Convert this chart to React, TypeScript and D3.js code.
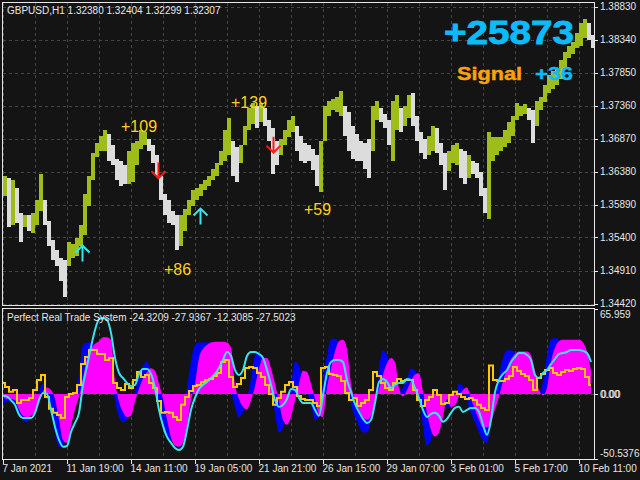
import * as d3 from 'd3'

// GBPUSD H1, aggregated 4 bars per group
const BARS_PER_GROUP = 4
const priceHigh = [
  1.3632, 1.3628, 1.3625, 1.3613, 1.3576, 1.3573, 1.3573, 1.3577, 1.3595, 1.3635,
  1.3595, 1.3565, 1.3536, 1.3521, 1.3509, 1.3506, 1.3533, 1.3531, 1.3539, 1.3558,
  1.3605, 1.3632, 1.3666, 1.3681, 1.3691, 1.3699, 1.3694, 1.3677, 1.3657, 1.3654,
  1.3647, 1.3669, 1.368, 1.3684, 1.3699, 1.3696, 1.3687, 1.3677, 1.3662, 1.3632,
  1.3605, 1.3595, 1.358, 1.3573, 1.3573, 1.3583, 1.3595, 1.361, 1.3614, 1.3619,
  1.3625, 1.3632, 1.3642, 1.3651, 1.3669, 1.3699, 1.3718, 1.3684, 1.3674, 1.3677,
  1.3706, 1.3733, 1.3739, 1.3736, 1.3739, 1.3732, 1.3714, 1.3702, 1.3684, 1.3687,
  1.3699, 1.3714, 1.3721, 1.3706, 1.3691, 1.3681, 1.3677, 1.3672, 1.3662, 1.3684,
  1.3736, 1.3743, 1.3746, 1.3749, 1.3758, 1.3736, 1.3726, 1.3706, 1.3694, 1.3684,
  1.368, 1.3687, 1.3736, 1.3743, 1.3732, 1.3724, 1.3714, 1.3743, 1.3751, 1.3732,
  1.3736, 1.3751, 1.3755, 1.3721, 1.3696, 1.3687, 1.369, 1.3706, 1.3702, 1.3681,
  1.3666, 1.3669, 1.3677, 1.3681, 1.3671, 1.3668, 1.3662, 1.3654, 1.365, 1.3637,
  1.3613, 1.3696, 1.3689, 1.3689, 1.3689, 1.3699, 1.3711, 1.3721, 1.3739, 1.3736,
  1.3738, 1.3733, 1.3729, 1.3743, 1.3748, 1.3766, 1.3781, 1.3787, 1.3791, 1.3803,
  1.3815, 1.3825, 1.383, 1.3843, 1.3859, 1.3865, 1.3859, 1.384,
]
const priceLow = [
  1.3602, 1.3555, 1.3558, 1.3561, 1.3533, 1.3556, 1.355, 1.3546, 1.3558, 1.358,
  1.3558, 1.3528, 1.3506, 1.3498, 1.3476, 1.3451, 1.3498, 1.3509, 1.3513, 1.3528,
  1.3543, 1.3587, 1.3625, 1.3659, 1.3669, 1.3669, 1.3654, 1.3647, 1.3625, 1.3617,
  1.362, 1.362, 1.3622, 1.3647, 1.3672, 1.3677, 1.3669, 1.3651, 1.3632, 1.3595,
  1.3573, 1.3562, 1.3558, 1.3521, 1.3528, 1.355, 1.3573, 1.3587, 1.3595, 1.3602,
  1.361, 1.3617, 1.3625, 1.3632, 1.3647, 1.3654, 1.3662, 1.3632, 1.3622, 1.365,
  1.3677, 1.3699, 1.3709, 1.3703, 1.3711, 1.3706, 1.3684, 1.3635, 1.3647, 1.3662,
  1.3677, 1.3689, 1.3696, 1.3669, 1.3654, 1.3651, 1.3654, 1.364, 1.3617, 1.3607,
  1.3684, 1.3721, 1.3729, 1.3727, 1.3721, 1.3691, 1.3669, 1.3657, 1.3654, 1.3654,
  1.3642, 1.3629, 1.3669, 1.3714, 1.3711, 1.3703, 1.3677, 1.3654, 1.3699, 1.3696,
  1.3706, 1.3717, 1.3706, 1.3684, 1.3666, 1.3657, 1.3662, 1.3669, 1.3666, 1.3647,
  1.361, 1.3639, 1.3651, 1.3647, 1.3628, 1.362, 1.3628, 1.3635, 1.3628, 1.3602,
  1.3577, 1.3568, 1.3654, 1.3662, 1.3669, 1.3674, 1.3681, 1.3691, 1.3714, 1.3721,
  1.3723, 1.3714, 1.368, 1.3706, 1.3729, 1.3741, 1.3755, 1.3761, 1.3767, 1.3776,
  1.3791, 1.3806, 1.3813, 1.3821, 1.3825, 1.3836, 1.3833, 1.3822,
]

const priceTicks = [1.3883, 1.3834, 1.3785, 1.3736, 1.3687, 1.3638, 1.3589, 1.354, 1.3491, 1.3442]
const timeLabels = [
  '7 Jan 2021', '11 Jan 19:00', '14 Jan 11:00', '19 Jan 05:00', '21 Jan 21:00',
  '26 Jan 15:00', '29 Jan 07:00', '3 Feb 01:00', '5 Feb 17:00', '10 Feb 11:00',
]
const TIME_STEP = 64
const GRID_STEP = 32
const TOTAL_BARS = 592

// Perfect Real Trade System buffers, one value every 4 bars
const histFast = [
  -7, -6, -5, -8, -15, -20, -22, -16, -8, 2,
  8, 4, -10, -30, -41, -40, -28, -12, 0, 15,
  38, 40, 40, 38, 36, 35, 30, 15, -5, -18,
  -22, -20, -10, 2, 14, 22, 25, 18, 8, -8,
  -25, -34, -36, -30, -20, -10, 5, 25, 38, 40,
  40, 40, 40, 40, 38, 30, 15, 2, -10, -18,
  -14, -4, 12, 30, 32, 26, 15, 2, -15, -30,
  -26, -15, 5, 25, 22, 10, 2, -8, -20, -18,
  10, 30, 42, 43, 38, 25, 8, -8, -18, -25,
  -30, -30, -20, -5, 20, 34, 30, 20, 10, 2,
  5, 12, 20, 18, 8, -25, -40, -36, -25, -15,
  -8, -10, -10, -5, 8, 6, -5, -15, -22, -30,
  -36, -38, -20, 0, 15, 28, 34, 34, 32, 28,
  22, 15, 8, 2, 0, 10, 30, 42, 43.5, 42,
  38, 34, 30, 28, 26, 25, 20, 10,
]
const histSlow = [
  -2, -4, -4, -5, -12, -17, -18, -17, -14, -8,
  2, 5, 3, -4, -20, -36, -38, -25, -12, -2,
  12, 28, 35, 39, 41, 44, 44, 42, 11, -6,
  -14, -18, -17, -6, 4, 12, 17, 20, 18, 8,
  -4, -20, -34, -40, -41, -38, -25, -5, 8, 28,
  35, 38, 40, 40.5, 40.5, 40.5, 40, 36, 8, -4,
  -10, -12, -5, 6, 20, 28, 28, 20, 8, -6,
  -20, -24, -18, -5, 8, 18, 17, 8, -4, -16,
  -18, 5, 20, 33, 41, 42, 35, 8, -4, -12,
  -18, -20, -17, -6, 4, 15, 24, 28, 25, 5,
  -2, 3, 10, 15, 16, 2, -15, -28, -33, -30,
  -18, -4, -10, -9, -2, 3, 5, -4, -12, -20,
  -26, -26, -22, -12, -2, 10, 20, 27, 31, 33,
  33, 33, 30, 18, 3, -1, 5, 25, 36, 41,
  42, 42, 42, 42, 42, 40, 33, 18,
]
const cyanLine = [
  -1.5, -2, -5, -8.5, -16, -18.6, -18.6, -18.6, -14.7, -4.7,
  0.8, 0, -12.4, -25.6, -35.7, -41, -40.4, -29.5, -22.5, -14.7,
  7, 21.7, 36.5, 49.7, 58, 59, 57.5, 47.4, 28, 16.3,
  12.4, 8.5, 6.2, 7, 15.5, 19.4, 19.4, 15.5, 4.7, -12.4,
  -24.8, -33.4, -38, -42, -43.5, -41, -28, -12.4, -3, 3.9,
  7, 9.3, 12.4, 15.5, 20.2, 26.4, 32.6, 29.5, 18.6, 14.7,
  18.6, 29.5, 32.6, 32.6, 31, 28, 18.6, 7, -4.7, -10,
  -8.5, -3.9, 3.9, 3.1, -3.1, -7, -7, -7, -12.4, -17,
  -1, 16.3, 24.8, 26.4, 26.4, 24.8, 10.9, 1.6, -7.8, -14,
  -19.4, -22.5, -20.2, -7, 9.3, 11.6, 9.3, 4.7, 7, 8.5,
  8.5, 11.6, 10.9, 4.7, -3.1, -12.4, -17.9, -15.5, -14.7, -17,
  -21.7, -19.4, -14.7, -10.9, -10, -14, -12.4, -10.9, -10.9, -14,
  -24, -31.8, -20.2, 1.6, 10.9, 15.5, 18.6, 24.8, 28.7, 31.8,
  31.8, 30.3, 26.4, 14.7, 12.4, 16.3, 18.6, 23.3, 27.2, 31,
  31.8, 32.6, 34.2, 34.2, 34.2, 33.4, 31.8, 24.8,
]
const goldLine = [
  8.5, 5.4, 1.6, 3.1, -7, -4.7, -4.7, -3.1, 3.1, 10.9,
  14.7, -2.3, -11.6, -14.7, -16.3, -18.6, -2.3, 0, 0.8, 7,
  23.3, 28.7, 34.2, 34.2, 31, 31, 26.4, 28, 8.5, 4.7,
  3.1, 7.8, 4.7, 10.9, 17, 13.2, 14.7, 8.5, 4.7, -5.4,
  -14.7, -14, -14.7, -17.9, -20.2, -8.5, -2.3, 2.3, 6.2, 7,
  9.3, 10.9, 11.6, 14, 16.3, 24.8, 26.4, 13.2, 5.4, 7.8,
  12.4, 20.2, 21, 20.2, 16.3, 13.2, 7, 0, -8.5, -3.1,
  1.6, 7, 9.3, 5.4, -1.6, -3.9, -4.7, -4.7, -7, -9.3,
  20.2, 21, 15.5, 14.7, 14, 10.1, 0.8, -4.7, -3.1, -9.3,
  -7, -4.7, 3.1, 17, 14, 8.5, 4.7, 3.1, 8.5, 11.6,
  10.1, 10.9, 10.9, 3.1, -4.7, -9.3, -4.7, -2.3, 3.1, -0.8,
  -7.8, -7, -0.8, 1.6, 0, -2.3, -3.9, -3.1, -4.7, -8.5,
  -10.9, -12.4, 22, 10.9, 10.1, 10.1, 11.6, 14, 21, 17.9,
  15.5, 14, 10.9, 3.1, 12.4, 15.5, 18.6, 20.2, 16.3, 14.7,
  17, 18.6, 17.9, 19.4, 20.2, 19.4, 13.2, 7,
]
const indTicks = [65.959, 0, -50.5376]
const indTickLabels = ['65.959', '0.00', '-50.5376']

// signal arrows and closed-trade profits
const signalBars = [79, 155, 197, 270]
const signalPrices = [1.3528, 1.3628, 1.3583, 1.3666]
const signalDirs = ['up', 'down', 'up', 'down']
const profitBars = [118, 228, 161, 301]
const profitPrices = [1.3696, 1.3732, 1.3485, 1.3574]
const profitTexts = ['+109', '+139', '+86', '+59']

const BG = '#141414'
const GRID = '#464646'
const FRAME = '#e8e8e8'
const AXIS_TXT = '#e6e6e6'
const BULL = '#9fbd1a'
const BEAR = '#dcdcdc'
const FONT = "'Liberation Sans', Arial, sans-serif"

export default function App() {
  const xs = d3.scaleLinear().domain([0, TOTAL_BARS]).range([3, 595])
  const yP = d3.scaleLinear().domain([1.3442, 1.3883]).range([303.5, 6.5])
  const yI = d3.scaleLinear().domain([-50.5376, 65.959]).range([459, 309])
  const crisp = (v: number) => Math.round(v) + 0.5

  const gridBars = d3.range(0, TOTAL_BARS - 10, GRID_STEP)
  const groupW = xs(BARS_PER_GROUP) - xs(0)

  const mids = priceHigh.map((h, i) => (h + priceLow[i]) / 2)

  const area = d3.area<number>()
    .x((_, i) => xs(i * BARS_PER_GROUP))
    .y0(yI(0))
    .y1(d => yI(d))
    .curve(d3.curveMonotoneX)
  const cyanPath = d3.line<number>()
    .x((_, i) => xs(i * BARS_PER_GROUP))
    .y(d => yI(d))
    .curve(d3.curveMonotoneX)
  const goldPath = d3.line<number>()
    .x((_, i) => xs(i * BARS_PER_GROUP))
    .y(d => yI(d))
    .curve(d3.curveStep)

  return (
    <svg width={640} height={480} style={{ position: 'absolute', left: 0, top: 0, display: 'block' }}
      fontFamily={FONT}>
      <defs>
        <clipPath id="mainClip"><rect x={3} y={3} width={591} height={302} /></clipPath>
        <clipPath id="indClip"><rect x={3} y={309} width={591} height={150} /></clipPath>
      </defs>
      <rect width={640} height={480} fill={BG} />

      {/* grid */}
      <g stroke={GRID} strokeDasharray="3,3" shapeRendering="crispEdges">
        {priceTicks.map(t => (
          <line key={t} x1={3} x2={594} y1={crisp(yP(t))} y2={crisp(yP(t))} />
        ))}
        {gridBars.map(b => (
          <line key={'v' + b} x1={crisp(xs(b))} x2={crisp(xs(b))} y1={3} y2={305} />
        ))}
        {gridBars.map(b => (
          <line key={'iv' + b} x1={crisp(xs(b))} x2={crisp(xs(b))} y1={309} y2={459} />
        ))}
        <line x1={3} x2={594} y1={crisp(yI(0))} y2={crisp(yI(0))} />
      </g>

      {/* price bars */}
      <g clipPath="url(#mainClip)" shapeRendering="crispEdges">
        {priceHigh.map((h, i) => {
          const y1 = yP(h)
          const y2 = yP(priceLow[i])
          const up = i === 0 || mids[i] >= mids[i - 1]
          return (
            <rect key={i} x={xs(i * BARS_PER_GROUP)} width={groupW} y={y1}
              height={Math.max(1, y2 - y1)} fill={up ? BULL : BEAR} />
          )
        })}
      </g>

      {/* signal arrows */}
      {signalBars.map((b, i) => {
        const x = Math.round(xs(b)) + 0.5
        const y = yP(signalPrices[i])
        const up = signalDirs[i] === 'up'
        const s = up ? 1 : -1
        const d = `M${x},${y} L${x},${y + s * 16} M${x - 7},${y + s * 7} L${x},${y} L${x + 7},${y + s * 7}`
        return <path key={'a' + i} d={d} fill="none" stroke={up ? '#2ee8f2' : '#ff1a1a'} strokeWidth={2} />
      })}

      {/* profit labels */}
      {profitBars.map((b, i) => (
        <text key={'p' + i} x={xs(b)} y={yP(profitPrices[i])} fontSize={16} fill="#ffd21a">
          {profitTexts[i]}
        </text>
      ))}

      {/* header */}
      <text x={7} y={14} fontSize={10} fill={AXIS_TXT}>GBPUSD,H1  1.32380 1.32404 1.32299 1.32307</text>

      {/* big stats */}
      <text x={444} y={44} fontSize={34} fontWeight="bold" fill="#0cbcf8" stroke="#0cbcf8" strokeWidth={0.8}
        textLength={130} lengthAdjust="spacingAndGlyphs">+25873</text>
      <text x={457} y={80} fontSize={19} fontWeight="bold" fill="#ffa20a" stroke="#ffa20a" strokeWidth={0.4}
        textLength={65} lengthAdjust="spacingAndGlyphs">Signal</text>
      <text x={535} y={80} fontSize={19} fontWeight="bold" fill="#0cbcf8" stroke="#0cbcf8" strokeWidth={0.4}
        textLength={38} lengthAdjust="spacingAndGlyphs">+36</text>

      {/* indicator */}
      <g clipPath="url(#indClip)">
        <path d={area(histFast) ?? ''} fill="#0000ff" />
        <path d={area(histSlow) ?? ''} fill="#ff00ff" />
        <path d={goldPath(goldLine) ?? ''} fill="none" stroke="#ffc800" strokeWidth={2} />
        <path d={cyanPath(cyanLine) ?? ''} fill="none" stroke="#38e4f0" strokeWidth={2} />
      </g>
      <text x={7} y={321} fontSize={10} fill={AXIS_TXT}>
        Perfect Real Trade System -24.3209 -27.9367 -12.3085 -27.5023
      </text>

      {/* frames */}
      <g fill="none" stroke={FRAME} shapeRendering="crispEdges">
        <rect x={2.5} y={2.5} width={592} height={303} />
        <rect x={2.5} y={308.5} width={592} height={151} />
      </g>

      {/* price axis */}
      <g fontSize={10} fill={AXIS_TXT}>
        {priceTicks.map(t => (
          <g key={'pt' + t}>
            <line x1={595} x2={598} y1={crisp(yP(t))} y2={crisp(yP(t))} stroke={FRAME} />
            <text x={600} y={yP(t) + 3.5}>{t.toFixed(5)}</text>
          </g>
        ))}
      </g>

      {/* indicator axis */}
      <g fontSize={10} fill={AXIS_TXT}>
        {indTicks.map((t, i) => {
          const y = yI(t)
          const dy = i === 0 ? 9 : i === 2 ? -2 : 4.5
          return (
            <g key={'it' + i}>
              <line x1={595} x2={598} y1={crisp(y)} y2={crisp(y)} stroke={FRAME} />
              <text x={600} y={y + dy}>{indTickLabels[i]}</text>
              {t === 0 && <text x={601} y={y + dy}>{indTickLabels[i]}</text>}
            </g>
          )
        })}
      </g>

      {/* time axis */}
      <g fontSize={10} fill={AXIS_TXT}>
        {timeLabels.map((l, i) => {
          const x = crisp(xs(i * TIME_STEP))
          return (
            <g key={'tl' + i}>
              <line x1={x} x2={x} y1={460} y2={464} stroke={FRAME} />
              <text x={x - 1} y={472}>{l}</text>
            </g>
          )
        })}
      </g>
    </svg>
  )
}
